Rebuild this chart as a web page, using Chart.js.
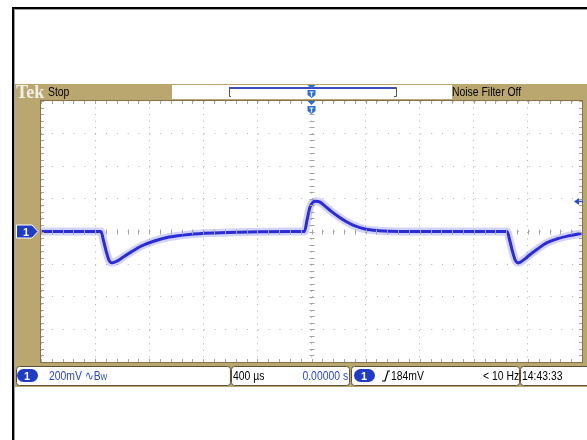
<!DOCTYPE html>
<html><head><meta charset="utf-8">
<script src="https://cdn.jsdelivr.net/npm/chart.js@4"></script>
<style>
html,body{margin:0;padding:0;background:#fff;}
#wrap{position:relative;width:587px;height:440px;overflow:hidden;}
#c{position:absolute;left:0;top:0;}
.t{position:absolute;font-family:"Liberation Sans",Arial,sans-serif;font-size:13px;line-height:14px;white-space:nowrap;color:#000;transform:scaleX(0.8);transform-origin:0 0;}
.r{transform-origin:100% 0;}
.tek{font-family:"Liberation Serif","DejaVu Serif",serif;font-weight:bold;font-size:18px;line-height:16px;color:#f2efe6;transform:none;}
.blue{color:#2a46c8;}
.w{color:#fff;font-weight:bold;font-size:11px;transform:none;}
</style></head>
<body>
<div id="wrap">
<canvas id="c" width="587" height="440"></canvas>
<div class="t tek" style="left:16px;top:84px;">Tek</div>
<div class="t" style="left:48px;top:85px;">Stop</div>
<div class="t" style="left:452px;top:85px;">Noise Filter Off</div>
<div class="t w" style="left:23px;top:225px;">1</div>
<div class="t w" style="left:24px;top:369px;">1</div>
<div class="t blue" style="left:49px;top:369px;">200mV ∿B<span style="font-size:9px">W</span></div>
<div class="t" style="left:233px;top:369px;">400 µs</div>
<div class="t blue r" style="right:239px;top:369px;">0.00000 s</div>
<div class="t w" style="left:361px;top:369px;">1</div>
<div class="t" style="left:391px;top:369px;">184mV</div>
<div class="t r" style="right:68px;top:369px;">&lt; 10 Hz</div>
<div class="t" style="left:522px;top:369px;">14:43:33</div>
</div>
<script>
// ---- data (time in µs, channel 1 in mV) ----
const timeUs = [-2000, -1557, -1539, -1517, -1495, -1472, -1435, -1391, -1332, -1258, -1162, -1052, -904, -720, -461, -166,
  -52, -33, -11, 11, 33, 63, 100, 144, 203, 262, 321, 395, 498, 646,
  1446, 1465, 1487, 1509, 1531, 1568, 1612, 1671, 1738, 1812, 1900, 1996];
const ch1mV = [0, 0, -52, -125, -180, -192, -180, -156, -125, -89, -58, -34, -18, -9, -3, 0,
  0, 70, 150, 180, 186, 180, 156, 125, 89, 58, 34, 15, 5, 0,
  0, -52, -125, -180, -192, -174, -144, -107, -70, -46, -27, -12];
const xTicksUs = [-2000, -1600, -1200, -800, -400, 0, 400, 800, 1200, 1600, 2000];
const yTicksMv = [-800, -600, -400, -200, 0, 200, 400, 600, 800];
const triggerLevelMv = [184];

const points = timeUs.map((t, i) => ({x: t, y: ch1mV[i]}));

const TAN = '#b9a76f';
const TAN_DARK = '#85744a';
const BLUE = '#1e3cc8';

function trigIcon(ctx, x, y) {
  ctx.fillStyle = '#2a6fd8';
  ctx.beginPath(); ctx.moveTo(x-4, y); ctx.lineTo(x+4, y); ctx.lineTo(x, y+4); ctx.closePath(); ctx.fill();
  ctx.beginPath();
  ctx.moveTo(x-4, y+5); ctx.lineTo(x+4, y+5); ctx.lineTo(x+4, y+10); ctx.lineTo(x, y+13); ctx.lineTo(x-4, y+10); ctx.closePath(); ctx.fill();
  ctx.strokeStyle = '#fff'; ctx.lineWidth = 1.2;
  ctx.beginPath(); ctx.moveTo(x-2, y+7); ctx.lineTo(x+2, y+7); ctx.moveTo(x, y+7); ctx.lineTo(x, y+11.5); ctx.stroke();
}
function box(ctx, x1, x2, y1, y2) {
  ctx.beginPath(); ctx.roundRect(x1+0.5, y1+0.5, x2-x1, y2-y1, 3);
  ctx.fillStyle = '#fff'; ctx.fill();
  ctx.strokeStyle = '#5d5234'; ctx.lineWidth = 1; ctx.stroke();
}

const scopePlugin = {
  id: 'scope',
  beforeDraw(chart) {
    const ctx = chart.ctx, a = chart.chartArea;
    ctx.save();
    ctx.fillStyle = '#fff'; ctx.fillRect(0, 0, 587, 440);
    ctx.fillStyle = TAN; ctx.fillRect(15, 84, 572, 303);
    ctx.fillStyle = '#fff'; ctx.fillRect(a.left, a.top, a.right - a.left, a.bottom - a.top);
    // outer black page frame
    ctx.fillStyle = '#000'; ctx.fillRect(12, 7, 2, 433); ctx.fillRect(12, 7, 575, 2);
    ctx.fillStyle = '#a0a0a0'; ctx.fillRect(14, 9, 1, 431); ctx.fillRect(14, 9, 573, 1);
    // record view box
    ctx.fillStyle = '#fff'; ctx.fillRect(172, 85, 280, 14);
    ctx.strokeStyle = '#3a4cc0'; ctx.lineWidth = 2;
    ctx.beginPath(); ctx.moveTo(229, 88); ctx.lineTo(396, 88); ctx.stroke();
    ctx.strokeStyle = '#555'; ctx.lineWidth = 1;
    ctx.beginPath();
    ctx.moveTo(231, 87.5); ctx.lineTo(229.5, 87.5); ctx.lineTo(229.5, 96.5); ctx.lineTo(231, 96.5);
    ctx.moveTo(394, 87.5); ctx.lineTo(396.5, 87.5); ctx.lineTo(396.5, 96.5); ctx.lineTo(394, 96.5);
    ctx.stroke();
    // bottom readout boxes
    box(ctx, 16, 230, 366, 385);
    box(ctx, 231, 349, 366, 385);
    box(ctx, 351, 519, 366, 385);
    box(ctx, 520, 600, 366, 385);
    // channel pills
    ctx.fillStyle = BLUE;
    ctx.beginPath(); ctx.roundRect(17, 369, 21, 13, 6.5); ctx.fill();
    ctx.beginPath(); ctx.roundRect(354, 369, 21, 13, 6.5); ctx.fill();
    // rising edge symbol
    ctx.strokeStyle = '#000'; ctx.lineWidth = 1.2;
    ctx.beginPath(); ctx.moveTo(382, 381); ctx.lineTo(385, 381); ctx.lineTo(388, 371); ctx.lineTo(390, 371); ctx.stroke();
    ctx.restore();
  },
  afterDraw(chart) {
    const ctx = chart.ctx, a = chart.chartArea, xs = chart.scales.x, ys = chart.scales.y;
    ctx.save();
    // minor ticks on center lines and edges
    const cx = xs.getPixelForValue(0), cy = ys.getPixelForValue(0);
    ctx.strokeStyle = '#a5a5a5'; ctx.lineWidth = 1;
    ctx.beginPath();
    const xStep = (xTicksUs[1] - xTicksUs[0]) / 5, yStep = (yTicksMv[1] - yTicksMv[0]) / 5;
    for (let v = xs.min; v <= xs.max + 1e-6; v += xStep) {
      const p = Math.round(xs.getPixelForValue(v)) + 0.5;
      ctx.moveTo(p, cy - 2); ctx.lineTo(p, cy + 3);
      ctx.moveTo(p, a.top); ctx.lineTo(p, a.top + 3);
      ctx.moveTo(p, a.bottom); ctx.lineTo(p, a.bottom - 3);
    }
    for (let v = ys.min; v <= ys.max + 1e-6; v += yStep) {
      const p = Math.round(ys.getPixelForValue(v)) + 0.5;
      ctx.moveTo(cx - 2, p); ctx.lineTo(cx + 3, p);
      ctx.moveTo(a.left, p); ctx.lineTo(a.left + 3, p);
      ctx.moveTo(a.right, p); ctx.lineTo(a.right - 3, p);
    }
    ctx.stroke();
    // plot frame
    ctx.strokeStyle = TAN_DARK; ctx.lineWidth = 1;
    ctx.strokeRect(a.left - 0.5, a.top - 0.5, a.right - a.left + 1, a.bottom - a.top + 1);
    // trigger position icons
    trigIcon(ctx, cx, 85);
    trigIcon(ctx, cx, 101);
    // ch1 ground marker
    ctx.fillStyle = BLUE; ctx.strokeStyle = '#fff'; ctx.lineWidth = 1;
    ctx.beginPath();
    ctx.moveTo(16.5, cy - 6.5); ctx.lineTo(32, cy - 6.5); ctx.lineTo(38, cy); ctx.lineTo(32, cy + 6.5); ctx.lineTo(16.5, cy + 6.5); ctx.closePath();
    ctx.fill(); ctx.stroke();
    // trigger level arrow
    const ty = ys.getPixelForValue(triggerLevelMv[0]);
    ctx.strokeStyle = '#2a4fd0'; ctx.fillStyle = '#2a4fd0'; ctx.lineWidth = 1.5;
    ctx.beginPath(); ctx.moveTo(577, ty); ctx.lineTo(583, ty); ctx.stroke();
    ctx.beginPath(); ctx.moveTo(574, ty); ctx.lineTo(579, ty - 3.5); ctx.lineTo(579, ty + 3.5); ctx.closePath(); ctx.fill();
    ctx.restore();
  }
};

new Chart(document.getElementById('c'), {
  type: 'line',
  data: {
    datasets: [
      {data: points, borderColor: '#2b2bd8', borderWidth: 3, pointRadius: 0, cubicInterpolationMode: 'monotone', fill: false},
      {data: points, borderColor: 'rgba(110,110,240,0.30)', borderWidth: 8, pointRadius: 0, cubicInterpolationMode: 'monotone', fill: false}
    ]
  },
  options: {
    responsive: false,
    animation: false,
    devicePixelRatio: 1,
    events: [],
    layout: {padding: {left: 41, top: 101, right: 5, bottom: 78}},
    plugins: {legend: {display: false}, tooltip: {enabled: false}},
    scales: {
      x: {
        type: 'linear', min: xTicksUs[0], max: xTicksUs[xTicksUs.length - 1],
        afterBuildTicks: s => { s.ticks = xTicksUs.map(v => ({value: v})); },
        ticks: {display: false},
        grid: {color: '#b0b0b0', lineWidth: 1, drawTicks: false},
        border: {display: false, dash: [1, 5.55]}
      },
      y: {
        type: 'linear', min: yTicksMv[0], max: yTicksMv[yTicksMv.length - 1],
        afterBuildTicks: s => { s.ticks = yTicksMv.map(v => ({value: v})); },
        ticks: {display: false},
        grid: {color: '#b0b0b0', lineWidth: 1, drawTicks: false},
        border: {display: false, dash: [1, 9.84]}
      }
    }
  },
  plugins: [scopePlugin]
});
</script>
</body></html>
